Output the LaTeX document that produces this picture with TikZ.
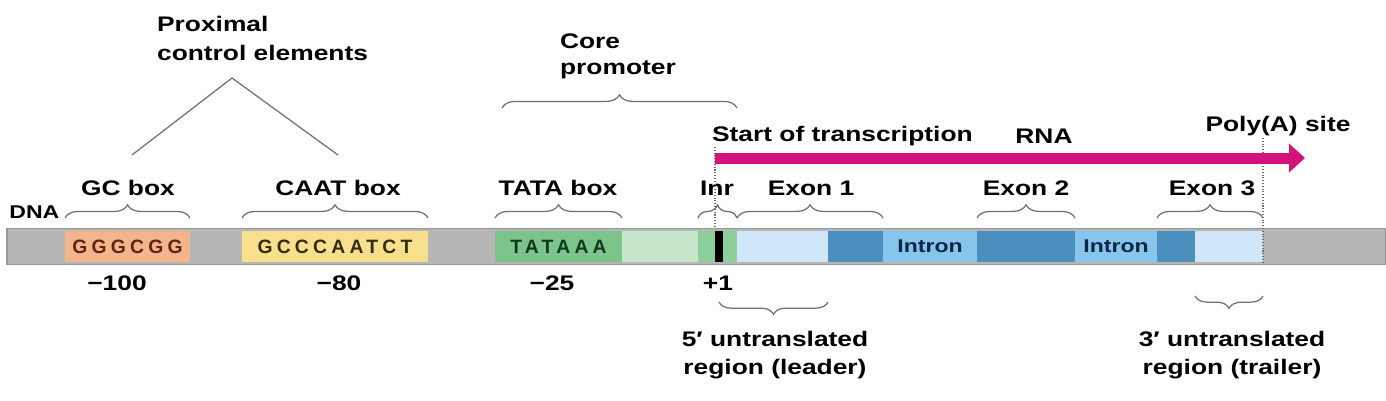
\documentclass[tikz,border=0pt]{standalone}
\usepackage{fontspec}
\setmainfont{Liberation Sans}[FakeStretch=1.25]
\newfontfamily\seqfont{Liberation Sans}[LetterSpace=22]
\usetikzlibrary{positioning, arrows.meta, decorations.pathreplacing}

\definecolor{dnagray}{HTML}{B6B6B6}
\definecolor{dnaedge}{HTML}{979797}
\definecolor{gcfill}{HTML}{F4B48C}
\definecolor{gctext}{HTML}{5A2810}
\definecolor{caatfill}{HTML}{F8DF8E}
\definecolor{caattext}{HTML}{332C06}
\definecolor{tatafill}{HTML}{7CC48C}
\definecolor{tatatext}{HTML}{0E3A1C}
\definecolor{palegreen}{HTML}{C6E6CB}
\definecolor{inrgreen}{HTML}{8ECE9B}
\definecolor{utrblue}{HTML}{CFE7F8}
\definecolor{exonblue}{HTML}{4A8FBD}
\definecolor{intronblue}{HTML}{88C5EC}
\definecolor{introntext}{HTML}{0B2746}
\definecolor{rnapink}{HTML}{D3127A}
\definecolor{bracegray}{HTML}{6E6E6E}

\begin{document}
\begin{tikzpicture}[
    x=0.02cm, y=0.02cm,
    % --- STYLES ---
    seg/.style={
            rectangle,
            inner sep=0pt,
            outer sep=0pt,
            minimum height=0.62cm,
            anchor=west
        },
    seqtxt/.style={
            font=\seqfont\bfseries\fontsize{11}{13}\selectfont
        },
    lbl/.style={
            font=\bfseries\fontsize{12}{15}\selectfont,
            inner sep=1pt
        },
    intron/.style={
            seg,
            fill=intronblue,
            text=introntext,
            font=\bfseries\fontsize{10.5}{12}\selectfont
        },
    brc/.style={
            decorate,
            decoration={brace, amplitude=7.5pt},
            draw=bracegray,
            line width=0.7pt
        },
    brcdown/.style={
            brc,
            decoration={brace, mirror, amplitude=7pt}
        },
    stem/.style={
            draw=bracegray,
            line width=0.7pt
        },
    guide/.style={
            draw=bracegray,
            densely dotted,
            line width=0.6pt
        },
    rna/.style={
            -{Triangle[length=0.32cm, width=0.56cm]},
            line width=0.22cm,
            draw=rnapink
        }
    ]
    \useasboundingbox (0,0) rectangle (1386,-400);

    % --- DNA BAR ---
    \node[seg, fill=dnagray, draw=dnaedge, line width=1.1pt,
        minimum width=1379*0.02cm, minimum height=0.72cm] (dna) at (7,-246.5) {};

    % promoter boxes
    \node[seg, fill=gcfill, text=gctext, seqtxt, minimum width=125*0.02cm] (gc) at (65,-246.5) {GGGCGG};
    \node[seg, fill=caatfill, text=caattext, seqtxt, minimum width=186*0.02cm] (caat) at (242,-246.5) {GCCCAATCT};
    \node[seg, fill=tatafill, text=tatatext, seqtxt, minimum width=127*0.02cm] (tata) at (495,-246.5) {TATAAA};
    \node[seg, fill=palegreen, minimum width=76*0.02cm, right=0pt of tata] (core) {};
    \node[seg, fill=inrgreen, minimum width=39*0.02cm, right=0pt of core] (inr) {};
    \node[seg, fill=black, minimum width=8*0.02cm] (tss) at (715,-246.5) {};

    % transcribed region
    \node[seg, fill=utrblue, minimum width=91*0.02cm, right=0pt of inr] (utr5) {};
    \node[seg, fill=exonblue, minimum width=55*0.02cm, right=0pt of utr5] (ex1) {};
    \node[intron, minimum width=94*0.02cm, right=0pt of ex1] (in1) {Intron};
    \node[seg, fill=exonblue, minimum width=98*0.02cm, right=0pt of in1] (ex2) {};
    \node[intron, minimum width=82*0.02cm, right=0pt of ex2] (in2) {Intron};
    \node[seg, fill=exonblue, minimum width=38*0.02cm, right=0pt of in2] (ex3) {};
    \node[seg, fill=utrblue, minimum width=68*0.02cm, right=0pt of ex3] (utr3) {};

    \node[font=\bfseries\fontsize{10.5}{12}\selectfont, anchor=base west, inner sep=0pt] (dnalbl) at (9,-218) {DNA};

    % --- LABELS ABOVE ---
    \node[lbl, anchor=base] (gclbl) at (128,-195) {GC box};
    \node[lbl, anchor=base] (caatlbl) at (338,-195) {CAAT box};
    \node[lbl, anchor=base] (tatalbl) at (558,-195) {TATA box};
    \node[lbl, anchor=base] (inrlbl) at (717,-195) {Inr};
    \node[lbl, anchor=base] (ex1lbl) at (811,-195) {Exon 1};
    \node[lbl, anchor=base] (ex2lbl) at (1026,-195) {Exon 2};
    \node[lbl, anchor=base] (ex3lbl) at (1212,-195) {Exon 3};

    \draw[brc] ([yshift=0.26cm]gc.north west) -- ([yshift=0.26cm]gc.north east);
    \draw[brc] ([yshift=0.26cm]caat.north west) -- ([yshift=0.26cm]caat.north east);
    \draw[brc] ([yshift=0.26cm]tata.north west) -- ([yshift=0.26cm]tata.north east);
    \draw[brc] ([yshift=0.26cm]inr.north west) -- ([yshift=0.26cm]inr.north east);
    \draw[brc] ([yshift=0.26cm]utr5.north west) -- ([yshift=0.26cm]ex1.north east);
    \draw[brc] ([yshift=0.26cm]ex2.north west) -- ([yshift=0.26cm]ex2.north east);
    \draw[brc] ([yshift=0.26cm]ex3.north west) -- ([yshift=0.26cm]utr3.north east);

    % proximal control elements
    \node[lbl, align=left, anchor=west, font=\bfseries\fontsize{12}{17}\selectfont] (prox) at (155,-38.5) {Proximal\\control elements};
    \coordinate (apex) at (232,-78);
    \coordinate (gcend) at (132,-155);
    \coordinate (caatend) at (338,-155);
    \draw[stem] (gcend) -- (apex) -- (caatend);

    % core promoter
    \node[lbl, align=left, anchor=west, font=\bfseries\fontsize{12}{15}\selectfont] (corelbl) at (558,-56) {Core\\promoter};
    \coordinate (cpleft) at (502,-108);
    \draw[brc] (cpleft) -- (cpleft -| inr.east);

    % --- TRANSCRIPTION ---
    \node[lbl, anchor=base west] (startlbl) at (710,-141) {Start of transcription};
    \node[lbl, anchor=base] (rnalbl) at (1044,-143) {RNA};
    \node[lbl, anchor=base] (polylbl) at (1278,-131) {Poly(A) site};

    \coordinate (tsstop) at (715,-147);
    \coordinate (polytop) at (1263,-138);
    \draw[guide] (tsstop) -- (tsstop |- dna.north);
    \draw[guide] (polytop) -- (polytop |- dna.south);

    \coordinate (rnastart) at (715,-158);
    \coordinate (rnaend) at (1305,-158);
    \draw[rna] (rnastart) -- (rnaend);

    % --- POSITIONS BELOW ---
    \node[lbl, anchor=base] (pos100) at (117,-290) {−100};
    \node[lbl, anchor=base] (pos80) at (339,-290) {−80};
    \node[lbl, anchor=base] (pos25) at (552,-290) {−25};
    \node[lbl, anchor=base] (pos1) at (718,-290) {+1};

    % untranslated regions
    \draw[brcdown] ([yshift=-0.8cm]tss.south) -- ([yshift=-0.8cm]utr5.south east);
    \draw[brcdown] ([yshift=-0.68cm]utr3.south west) -- ([yshift=-0.68cm]utr3.south east);

    \node[lbl, align=center, font=\bfseries\fontsize{12}{16}\selectfont] (utr5lbl) at (775,-355) {5′ untranslated\\region (leader)};
    \node[lbl, align=center, font=\bfseries\fontsize{12}{16}\selectfont] (utr3lbl) at (1232,-355) {3′ untranslated\\region (trailer)};

\end{tikzpicture}
\end{document}
